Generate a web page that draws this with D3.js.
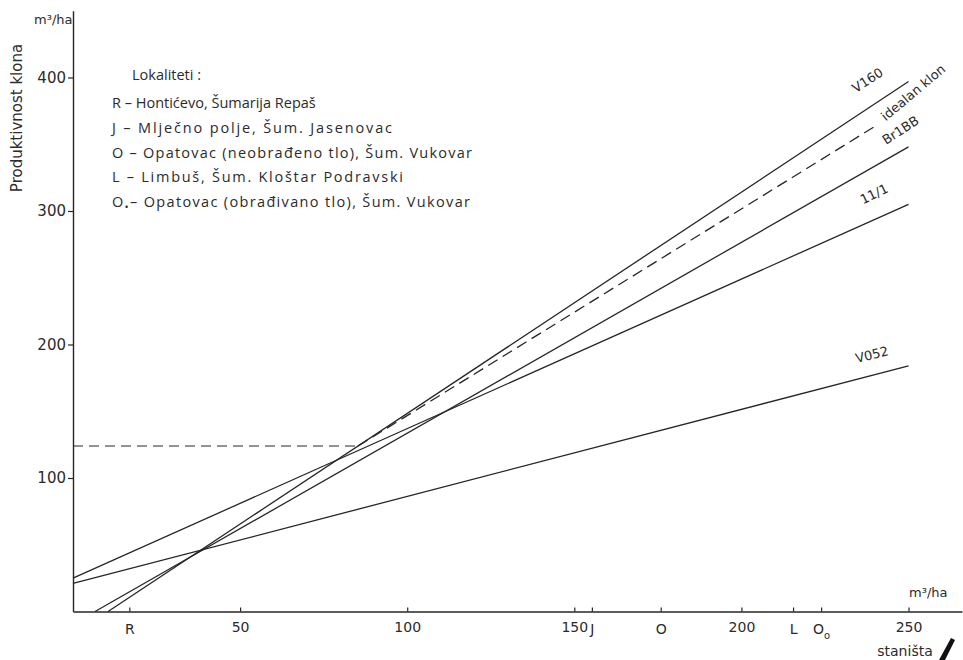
<!DOCTYPE html>
<html>
<head>
<meta charset="utf-8">
<script src="https://cdn.jsdelivr.net/npm/d3@7/dist/d3.min.js"></script>
<style>
  html, body { margin: 0; padding: 0; background: #ffffff; }
  svg { display: block; }
  text { font-family: "DejaVu Sans", sans-serif; fill: #2b2b2b; }
  .legend text { font-family: "Open Sans", "DejaVu Sans", sans-serif; }
</style>
</head>
<body>
<svg id="chart" width="963" height="660"></svg>
<script>
// Regression lines of clone productivity against site productivity (m³/ha)
const clones   = ["V160", "Br1BB", "11/1", "V052"];
const startX   = [10.5, 6.6, 0, 0];
const startY   = [0, 0, 25, 21];
const endX     = [250, 250, 250, 250];
const endY     = [397, 348, 305, 184];

// "idealan klon" (dashed) and the horizontal reference level
const idealX   = [85.3, 240];
const idealY   = [124, 363.5];
const levelY   = 124;
const levelEndX = 85.3;

// Axis ticks
const yTicks   = [100, 200, 300, 400];
const xTicks   = [50, 100, 150, 200, 250];

// Site positions on the x axis
const siteCodes = ["R", "J", "O", "L", "O"];
const siteSubs  = ["", "", "", "", "o"];
const siteX     = [17, 155.4, 176, 215.6, 224];

// Legend
const legendTitle = "Lokaliteti :";
const legendKeys  = ["R", "J", "O", "L", "O"];
const legendSubs  = ["", "", "", "", "•"];
const legendTexts = [
  " – Hontićevo, Šumarija Repaš",
  " – Mlječno polje, Šum. Jasenovac",
  " – Opatovac (neobrađeno tlo), Šum. Vukovar",
  " – Limbuš, Šum. Kloštar Podravski",
  "– Opatovac (obrađivano tlo), Šum. Vukovar"
];
const legendWidths = [196, 280, 360, 291, 358];

const svg = d3.select("#chart");
const ink = "#262626";

const x = d3.scaleLinear().domain([0, 266]).range([73, 962]);
const y = d3.scaleLinear().domain([0, 450]).range([611.5, 10.75]);

// Axes
const yAxis = d3.axisLeft(y).tickValues(yTicks).tickSize(5).tickSizeOuter(0).tickPadding(2);
const gy = svg.append("g").attr("transform", `translate(${x(0)},0)`).call(yAxis);
gy.selectAll("text").style("font-size", "15px").attr("fill", "#2b2b2b");

const xAxis = d3.axisBottom(x).tickValues(xTicks).tickSizeInner(-4).tickSizeOuter(0).tickPadding(11);
const gx = svg.append("g").attr("transform", `translate(0,${y(0)})`).call(xAxis);
gx.selectAll("text").style("font-size", "14px").attr("fill", "#2b2b2b");

[gx, gy].forEach(g => {
  g.select(".domain").attr("stroke", ink).attr("stroke-width", 1.4);
  g.selectAll(".tick line").attr("stroke", ink).attr("stroke-width", 1.2);
});

// Site ticks and letters
const sites = svg.append("g");
siteX.forEach((v, i) => {
  sites.append("line")
    .attr("x1", x(v)).attr("x2", x(v))
    .attr("y1", y(0)).attr("y2", y(0) - 4)
    .attr("stroke", ink).attr("stroke-width", 1.2);
  const t = sites.append("text")
    .attr("x", x(v)).attr("y", y(0) + 22)
    .attr("text-anchor", "middle")
    .style("font-size", "14px")
    .text(siteCodes[i]);
  if (siteSubs[i]) {
    t.append("tspan").attr("dy", 5).style("font-size", "10px").text(siteSubs[i]);
  }
});

// Clone lines
const lines = svg.append("g").attr("fill", "none").attr("stroke", ink).attr("stroke-width", 1.3);
clones.forEach((c, i) => {
  lines.append("line")
    .attr("x1", x(startX[i])).attr("y1", y(startY[i]))
    .attr("x2", x(endX[i])).attr("y2", y(endY[i]));
});

// Ideal clone and reference level (dashed)
lines.append("line")
  .attr("x1", x(idealX[0])).attr("y1", y(idealY[0]))
  .attr("x2", x(idealX[1])).attr("y2", y(idealY[1]))
  .attr("stroke-dasharray", "11,6");
lines.append("line")
  .attr("x1", x(0)).attr("y1", y(levelY))
  .attr("x2", x(levelEndX)).attr("y2", y(levelY))
  .attr("stroke-dasharray", "10,6")
  .attr("stroke-width", 1.1);

// Line labels placed above line ends
const lineLabels = [
  { text: "V160",         px: 870, py: 84,  angle: -33 },
  { text: "idealan klon", px: 916, py: 96,  angle: -40 },
  { text: "Br1BB",        px: 903, py: 134, angle: -33 },
  { text: "11/1",         px: 876, py: 198, angle: -26 },
  { text: "V052",         px: 873, py: 359, angle: -14 }
];
lineLabels.forEach(l => {
  svg.append("text")
    .attr("transform", `translate(${l.px},${l.py}) rotate(${l.angle})`)
    .attr("text-anchor", "middle")
    .style("font-size", "13px")
    .text(l.text);
});

// Axis titles
svg.append("text")
  .attr("transform", "translate(22,118) rotate(-90)")
  .attr("text-anchor", "middle")
  .style("font-size", "15px")
  .text("Produktivnost klona");
svg.append("text")
  .attr("x", 34).attr("y", 24)
  .style("font-size", "13px")
  .text("m³/ha");
svg.append("text")
  .attr("x", 909).attr("y", 597)
  .style("font-size", "13px")
  .text("m³/ha");
svg.append("text")
  .attr("x", 905).attr("y", 656)
  .attr("text-anchor", "middle")
  .style("font-size", "14px")
  .text("staništa");

// Legend block
const legend = svg.append("g").attr("class", "legend");
legend.append("text")
  .attr("x", 132).attr("y", 80)
  .style("font-size", "14.5px")
  .text(legendTitle);
legendKeys.forEach((k, i) => {
  const t = legend.append("text")
    .attr("x", 112).attr("y", 108 + i * 24.8)
    .style("font-size", "14.5px");
  t.append("tspan").text(k);
  if (legendSubs[i]) {
    t.append("tspan").attr("dy", 4).style("font-size", "11px").text(legendSubs[i]);
    t.append("tspan").attr("dy", -4).text(legendTexts[i]);
  } else {
    t.append("tspan").text(legendTexts[i]);
  }
  // widen short rows to the lettered row length
  if (t.node().getComputedTextLength() < legendWidths[i]) {
    t.attr("textLength", legendWidths[i]).attr("lengthAdjust", "spacing");
  }
});

// Corner pen mark
svg.append("path")
  .attr("d", "M951,638 L955,640 L945,660 L939,660 Z")
  .attr("fill", "#111");
</script>
</body>
</html>
